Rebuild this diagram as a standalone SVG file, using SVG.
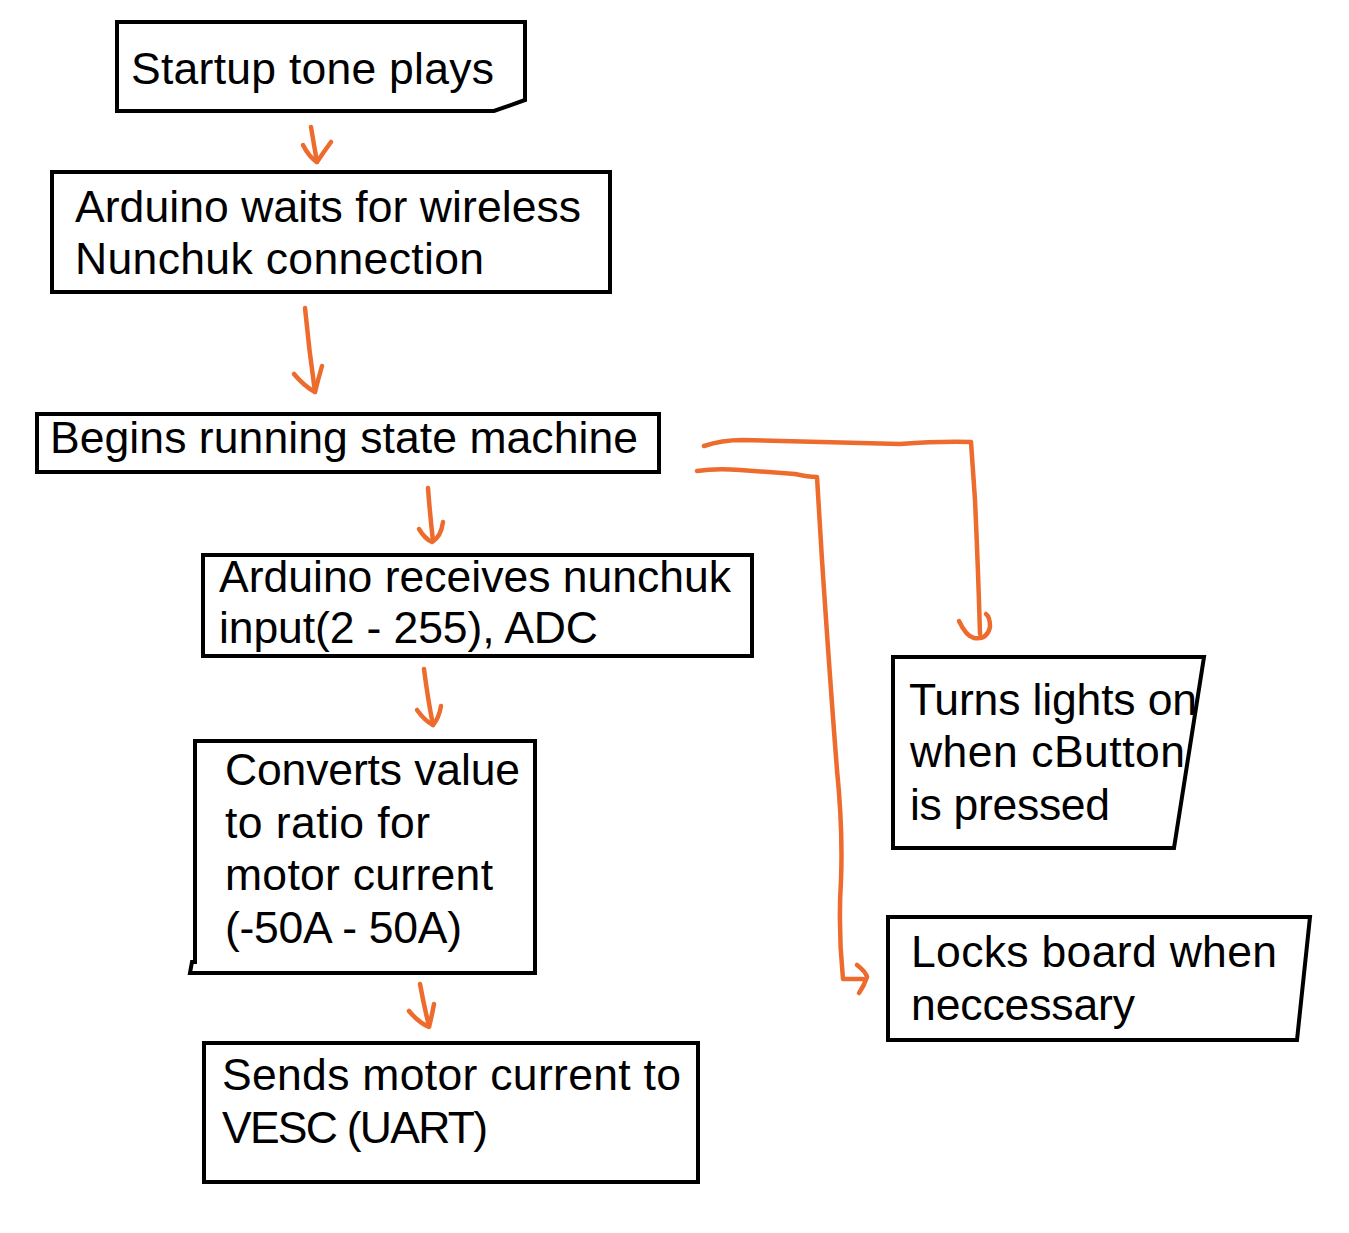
<svg xmlns="http://www.w3.org/2000/svg" width="1349" height="1233" viewBox="0 0 1349 1233">
<style>
.box{fill:none;stroke:#000;stroke-width:4;stroke-linejoin:miter}
.t{font-family:"Liberation Sans",Arial,Helvetica,sans-serif;font-size:44.5px;fill:#000}
.c{fill:none;stroke:#EE6B2E;stroke-width:4.5;stroke-linecap:round;stroke-linejoin:round}
</style>
<rect width="1349" height="1233" fill="#fff"/>
<g id="connectors">
<path class="c" d="M311,127 Q314,145 317,162"/>
<path class="c" d="M303,145 Q309,157 317,162 Q323,153 331,142"/>
<path class="c" d="M305,308 Q309,350 315,392"/>
<path class="c" d="M294,374 Q304,386 315,392 Q318,380 322,366"/>
<path class="c" d="M428,488 Q430,515 433,541"/>
<path class="c" d="M419,529 Q425,539 432,542 Q441,537 443,522"/>
<path class="c" d="M424,669 Q428,700 433,725"/>
<path class="c" d="M417,710 Q425,721 433,725 Q439,718 441,706"/>
<path class="c" d="M420,984 Q424,1006 429,1026"/>
<path class="c" d="M409,1011 Q419,1023 429,1027 Q432,1015 434,1004"/>
<path class="c" d="M704,446 Q722,440 742,440 L900,444 Q940,441 971,442 L975,500 Q978,565 980,634"/>
<path class="c" d="M959,621 Q966,636 974,638 Q987,640 990,627 Q990,617 986,614"/>
<path class="c" d="M697,471 Q716,468 740,470 L795,474 Q808,477 817,477 L822,560 Q830,680 837,770 Q843,830 841,880 Q838,930 843,979 L863,979"/>
<path class="c" d="M857,965 Q866,972 867,977 Q864,986 859,993"/>
</g>
<g id="n1">
<path class="box" d="M117,22 L525,22 L525,100 L494,111 L117,111 Z"/>
<text class="t" x="131" y="84" textLength="363">Startup tone plays</text>
</g>
<g id="n2">
<rect class="box" x="52" y="172" width="558" height="120"/>
<text class="t" x="75" y="222" textLength="506">Arduino waits for wireless</text>
<text class="t" x="75" y="274" textLength="409">Nunchuk connection</text>
</g>
<g id="n3">
<rect class="box" x="37" y="414" width="622" height="58"/>
<text class="t" x="50" y="453" textLength="588">Begins running state machine</text>
</g>
<g id="n4">
<rect class="box" x="203" y="555" width="549" height="101"/>
<text class="t" x="219" y="592" textLength="512">Arduino receives nunchuk</text>
<text class="t" x="219" y="643" textLength="379">input(2 - 255), ADC</text>
</g>
<g id="n5">
<path class="box" d="M195,962 L195,741 L535,741 L535,973 L190,973 L192,962 Z"/>
<text class="t" x="225" y="785" textLength="295">Converts value</text>
<text class="t" x="225" y="838" textLength="205">to ratio for</text>
<text class="t" x="225" y="890" textLength="268">motor current</text>
<text class="t" x="225" y="943" textLength="237">(-50A - 50A)</text>
</g>
<g id="n6">
<rect class="box" x="204" y="1043" width="494" height="139"/>
<text class="t" x="222" y="1090" textLength="459">Sends motor current to</text>
<text class="t" x="222" y="1143" textLength="266">VESC (UART)</text>
</g>
<g id="n7">
<path class="box" d="M893,657 L1204,657 L1174,848 L893,848 Z"/>
<text class="t" x="909" y="715" textLength="288">Turns lights on</text>
<text class="t" x="910" y="767" textLength="275">when cButton</text>
<text class="t" x="910" y="820" textLength="200">is pressed</text>
</g>
<g id="n8">
<path class="box" d="M888,917 L1310,917 L1297,1040 L888,1040 Z"/>
<text class="t" x="911" y="967" textLength="366">Locks board when</text>
<text class="t" x="911" y="1020" textLength="224">neccessary</text>
</g>
</svg>
